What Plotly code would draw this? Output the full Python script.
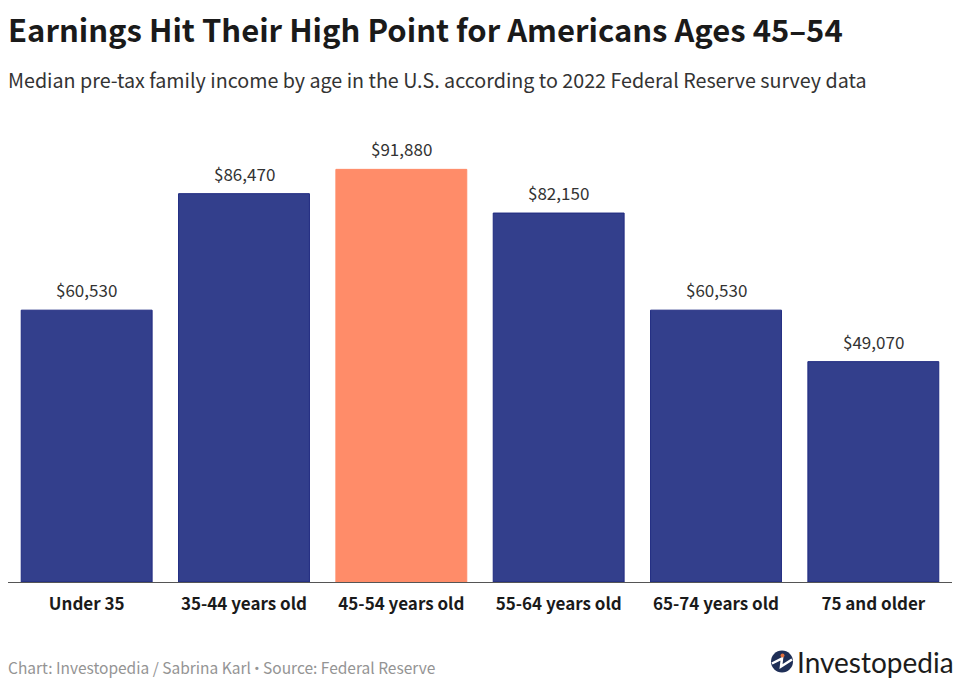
import plotly.graph_objects as go

categories = ["Under 35", "35-44 years old", "45-54 years old",
              "55-64 years old", "65-74 years old", "75 and older"]
income = [60530, 86470, 91880, 82150, 60530, 49070]
bar_colors = ["#333F8C", "#333F8C", "#FF8C69", "#333F8C", "#333F8C", "#333F8C"]
edge_colors = ["#1F2A80", "#1F2A80", "#FF8C69", "#1F2A80", "#1F2A80", "#1F2A80"]

title = "Earnings Hit Their High Point for Americans Ages 45–54"
subtitle = "Median pre-tax family income by age in the U.S. according to 2022 Federal Reserve survey data"
credit = ('Chart: Investopedia / Sabrina Karl '
          '<span style="font-family:Roboto">•</span> Source: Federal Reserve')
brand = "Investopedia"

W, H = 960, 686
FONT = "Noto Sans CJK SC"

fig = go.Figure(go.Bar(
    x=categories,
    y=income,
    marker=dict(color=bar_colors, line=dict(color=edge_colors, width=1)),
    hoverinfo="skip",
))

# Value labels sit a fixed distance above each bar
for cat, val in zip(categories, income):
    fig.add_annotation(
        x=cat, y=val, xref="x", yref="y",
        text=f"${val:,}", showarrow=False,
        yanchor="bottom", yshift=6,
        font=dict(family=FONT, size=17, color="#333333"),
    )


def fx(px):
    return (px - 8) / (W - 16)


def fy(py):
    return (H - 104 - py) / (H - 236)


def px_text(x, y, text, size, color, bold=False, family=FONT, anchor="left"):
    """Place a text label using pixel coordinates measured from the top-left."""
    fig.add_annotation(
        xref="paper", yref="paper", x=fx(x), y=fy(y),
        text=f"<b>{text}</b>" if bold else text,
        showarrow=False, xanchor=anchor, yanchor="middle",
        font=dict(family=family, size=size, color=color),
    )


px_text(6, 29, title, 31, "#1a1a1a", bold=True)
px_text(6, 80, subtitle, 19.7, "#333333")
px_text(6, 667, credit, 15.5, "#949494")
px_text(795, 662, brand, 28, "#1c1c1c", family="Lato")

# Brand mark: navy disc with a white zig-zag and an orange dot
cx, cy, r = 782, 661.5, 11
fig.add_shape(type="circle", xref="paper", yref="paper",
              x0=fx(cx - r), x1=fx(cx + r), y0=fy(cy + r), y1=fy(cy - r),
              fillcolor="#1F2F57", line_width=0)
zig = [(cx - 10, cy + 2), (cx, cy - 3), (cx - 1, cy + 5), (cx + 10, cy - 2)]
fig.add_shape(type="path", xref="paper", yref="paper",
              path="M " + " L ".join(f"{fx(a):.5f},{fy(b):.5f}" for a, b in zig),
              line=dict(color="white", width=2.5))
fig.add_shape(type="circle", xref="paper", yref="paper",
              x0=fx(cx - 1.5), x1=fx(cx + 2.5), y0=fy(cy - 4), y1=fy(cy - 8),
              fillcolor="#E0703F", line_width=0)

fig.update_layout(
    width=W, height=H,
    margin=dict(l=8, r=8, t=132, b=104, pad=0),
    paper_bgcolor="white", plot_bgcolor="white",
    bargap=0.168,
    showlegend=False,
    xaxis=dict(
        type="category", showgrid=False, zeroline=False,
        showline=True, linecolor="#555555", linewidth=1,
        ticks="", ticklabelstandoff=7,
        tickfont=dict(family=FONT, size=17, color="#1a1a1a", weight="bold"),
    ),
    yaxis=dict(range=[0, 100200], visible=False),
)

fig.write_html("out.html", config={"displayModeBar": False})
